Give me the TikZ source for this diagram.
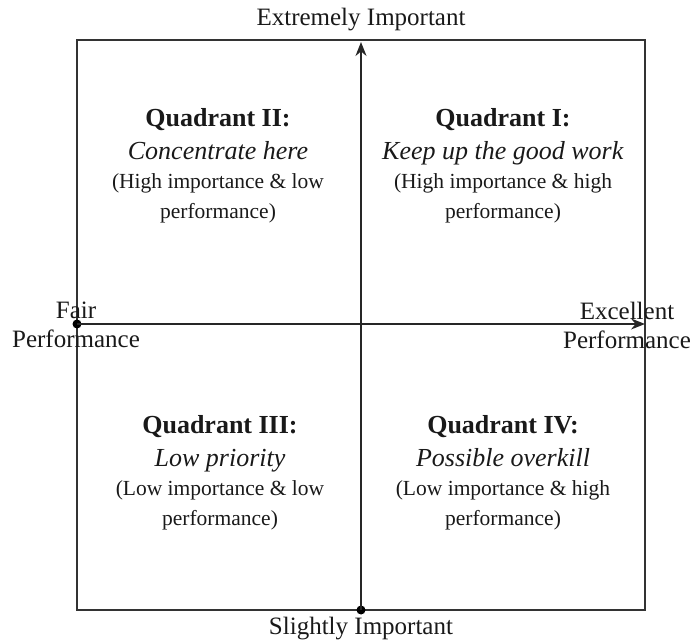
\documentclass[tikz,border=0pt]{standalone}
\usepackage{fontspec}
\setmainfont{Liberation Serif}
\usetikzlibrary{arrows.meta}
\newcommand{\qhead}[1]{{\fontsize{26}{29}\selectfont #1}}
\begin{document}
\begin{tikzpicture}[x=1pt,y=1pt,
  axis/.style={line width=1.6pt,draw=black!85,-{Stealth[length=14pt,width=11pt]}},
  frame/.style={line width=1.4pt,draw=black!80},
  dotmark/.style={circle,fill=black,inner sep=0pt,minimum size=9pt},
  lbl/.style={font=\fontsize{25}{29}\selectfont,align=center,inner sep=0pt,text=black!90},
  quad/.style={font=\fontsize{21.5}{29.5}\selectfont,align=center,inner sep=0pt,text=black!90}]
\useasboundingbox (0,0) rectangle (692,642);
\draw[frame] (77,32) rectangle (645,602);
\node[dotmark] (left) at (77,318) {};
\node[dotmark] (bottom) at (361,32) {};
\coordinate (right) at (645,318);
\coordinate (top) at (361,600);
\draw[axis] (left.center) -- (right);
\draw[axis] (bottom.center) -- (top);
\node[lbl] (ei) at (361,622) {Extremely Important};
\node[lbl] (si) at (361,13) {Slightly Important};
\node[lbl] (fp) at (76,317) {Fair\\Performance};
\node[lbl] (ep) at (627,317) {Excellent\\Performance};
\node[quad] (q2) at (218,476) {\qhead{\textbf{Quadrant II:}}\\[3pt]\qhead{\textit{Concentrate here}}\\(High importance \& low\\performance)};
\node[quad] (q1) at (503,476) {\qhead{\textbf{Quadrant I:}}\\[3pt]\qhead{\textit{Keep up the good work}}\\(High importance \& high\\performance)};
\node[quad] (q3) at (220,169) {\qhead{\textbf{Quadrant III:}}\\[3pt]\qhead{\textit{Low priority}}\\(Low importance \& low\\performance)};
\node[quad] (q4) at (503,169) {\qhead{\textbf{Quadrant IV:}}\\[3pt]\qhead{\textit{Possible overkill}}\\(Low importance \& high\\performance)};
\end{tikzpicture}
\end{document}
